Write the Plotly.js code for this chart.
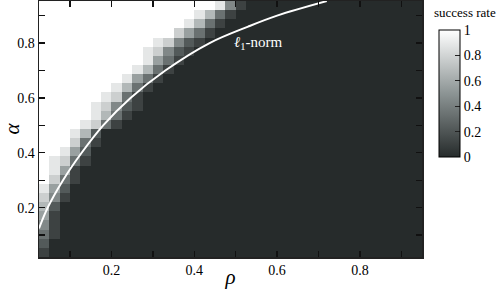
<!DOCTYPE html>
<html>
<head>
<meta charset="utf-8">
<script src="https://cdn.plot.ly/plotly-3.0.1.min.js"></script>
<style>html,body{margin:0;padding:0;background:#fff;}#chart{width:498px;height:289px;}</style>
</head>
<body>
<div id="chart"></div>
<script>
// Heatmap grid (rho = columns, alpha = rows)
const nCols = 37;
const rhoStart = 0.0375, rhoStep = 0.025;
const alphaStart = 0.0367, alphaStep = 0.03333;
// each row (bottom to top): [number of fully successful cells, transition levels (0-9 of 9)], rest = 0
const rowSpec = [
  [0, "1"], [0, "2"], [0, "31"], [0, "41"], [0, "51"], [0, "62"], [0, "741"], [0, "852"],
  [1, "731"], [1, "851"], [1, "8731"], [2, "852"], [3, "731"], [3, "862"], [4, "8731"],
  [5, "8631"], [5, "87421"], [6, "8731"], [7, "8631"], [8, "8531"], [9, "8631"], [10, "8531"],
  [10, "87421"], [11, "87421"], [13, "7531"], [14, "8631"], [15, "8631"], [17, "841"]
];
// theoretical l1 phase-transition curve
const rhoCurve   = [0.025, 0.046, 0.083, 0.128, 0.18, 0.246, 0.33, 0.437, 0.53, 0.60, 0.72];
const alphaCurve = [0.124, 0.20, 0.30, 0.40, 0.50, 0.60, 0.70, 0.80, 0.86, 0.90, 0.953];
const tickVals = [0.1, 0.2, 0.3, 0.4, 0.5, 0.6, 0.7, 0.8, 0.9];
const tickText = [" ", "0.2", " ", "0.4", " ", "0.6", " ", "0.8", " "];
const cbTicks = [0, 0.2, 0.4, 0.6, 0.8, 1];
const cbText = ["0", "0.2", "0.4", "0.6", "0.8", "1"];

const z = rowSpec.map(([n, s]) => {
  const row = [];
  for (let i = 0; i < nCols; i++) {
    if (i < n) row.push(1);
    else if (i - n < s.length) row.push(parseInt(s[i - n], 10) / 9);
    else row.push(0);
  }
  return row;
});

const serif = "Liberation Serif";
// plot area in pixels: x 39..422, y 1..257
const pxX = px => (px - 39) / 383;
const pxY = py => 1 - (py - 1) / 256;
const cbTop = 30, cbBot = 157, cbLeft = 439, cbW = 21;

const heat = {
  type: "heatmap", z: z, x0: rhoStart, dx: rhoStep, y0: alphaStart, dy: alphaStep,
  zmin: 0, zmax: 1, zsmooth: false,
  colorscale: [[0, "#262b2b"], [0.5, "#8c9494"], [1, "#ffffff"]],
  hoverinfo: "skip",
  colorbar: {
    thickness: cbW, len: cbBot - cbTop, lenmode: "pixels", ypad: 0, xpad: 0,
    x: pxX(cbLeft), xanchor: "left", y: pxY((cbTop + cbBot) / 2), yanchor: "middle",
    outlinewidth: 1, outlinecolor: "#000",
    tickvals: cbTicks, ticktext: cbText, ticks: "inside", ticklen: 5, tickcolor: "#222",
    tickfont: {family: serif, size: 14, color: "#000"}
  }
};
const curve = {
  type: "scatter", mode: "lines", x: rhoCurve, y: alphaCurve,
  line: {color: "#ffffff", width: 2, shape: "spline", smoothing: 1},
  hoverinfo: "skip", showlegend: false
};
const axisCommon = {
  tickvals: tickVals, ticktext: tickText, ticks: "inside", ticklen: 6, tickwidth: 1.3,
  tickcolor: "#111", showline: true, linecolor: "#222", linewidth: 1.5, mirror: "allticks",
  showgrid: false, zeroline: false, tickfont: {family: serif, size: 14, color: "#000"}
};
// left-side ticks of the colorbar
const cbShapes = [0.2, 0.4, 0.6, 0.8].map(v => {
  const py = cbBot - v * (cbBot - cbTop);
  return {type: "line", xref: "paper", yref: "paper",
    x0: pxX(cbLeft), x1: pxX(cbLeft + 5), y0: pxY(py), y1: pxY(py),
    line: {color: "#222", width: 1}};
});
const layout = {
  width: 498, height: 289,
  margin: {l: 39, r: 76, t: 1, b: 32, autoexpand: false},
  paper_bgcolor: "#fff", plot_bgcolor: "#262b2b",
  showlegend: false,
  xaxis: Object.assign({}, axisCommon, {range: [0.025, 0.95],
    title: {text: "<i>ρ</i>", font: {family: serif, size: 21, color: "#000"}, standoff: 2}}),
  yaxis: Object.assign({}, axisCommon, {range: [0.02, 0.9533],
    title: {text: "<i>α</i>", font: {family: serif, size: 21, color: "#000"}, standoff: 4}}),
  shapes: cbShapes,
  annotations: [{
    x: 0.553, y: 0.8, xref: "x", yref: "y", showarrow: false,
    text: "<i>ℓ</i><sub>1</sub>-norm", font: {family: serif, size: 15, color: "#fff"}
  }, {
    x: pxX(465), y: pxY(12), xref: "paper", yref: "paper", showarrow: false,
    xanchor: "center", yanchor: "middle",
    text: "success rate", font: {family: serif, size: 13, color: "#000"}
  }]
};
Plotly.newPlot("chart", [heat, curve], layout, {staticPlot: true, displayModeBar: false});
</script>
</body>
</html>
